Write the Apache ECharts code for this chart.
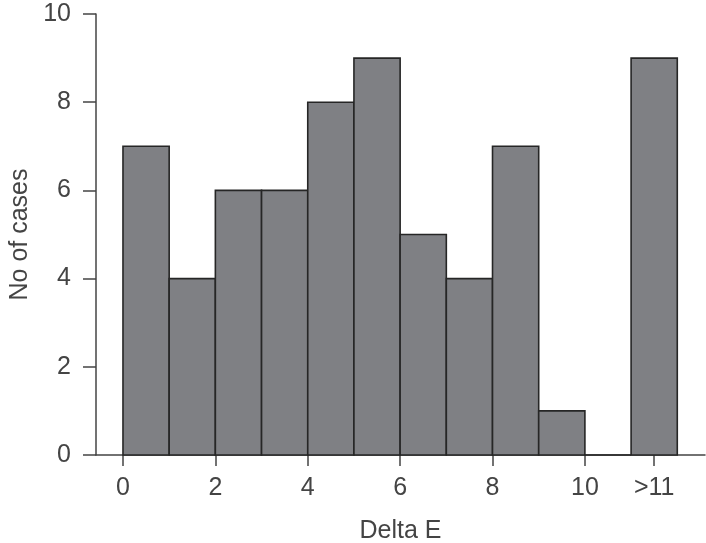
<!DOCTYPE html>
<html><head><meta charset="utf-8">
<script src="https://cdn.jsdelivr.net/npm/echarts@6/dist/echarts.min.js"></script>
<style>html,body{margin:0;padding:0;background:#fff}#c{width:706px;height:543px}</style>
</head><body><div id="c"></div>
<script>
var binStarts = [0,1,2,3,4,5,6,7,8,9,10,11];
var binEnds = [1,2,3,4,5,6,7,8,9,10,11,12];
var counts = [7,4,6,6,8,9,5,4,7,1,0,9];
var tickValues = [0,2,4,6,8,10,11.5];
var tickLabels = ['0','2','4','6','8','10','>11'];

var data = binStarts.map(function(s,i){return [s, binEnds[i], counts[i]];});
var font = 'Liberation Sans';
var chart = echarts.init(document.getElementById('c'));
chart.setOption({
  animation:false,
  grid:{left:96,right:1,top:14,bottom:88,containLabel:false,outerBoundsMode:'none'},
  xAxis:{type:'value',min:-0.584,max:12.6,
    name:'Delta E',nameLocation:'middle',nameGap:64,
    nameTextStyle:{fontSize:25,color:'#444',fontFamily:font},
    axisLine:{show:true,onZero:false,lineStyle:{color:'#444',width:1.5}},
    axisTick:{show:true,customValues:tickValues,length:11,lineStyle:{color:'#444',width:1.5}},
    axisLabel:{customValues:tickValues,margin:21,fontSize:25,color:'#444',fontFamily:font,
      formatter:function(v){var i=tickValues.indexOf(v);return i>=0?tickLabels[i]:'';}},
    splitLine:{show:false}},
  yAxis:{type:'value',min:0,max:10,interval:2,
    name:'No of cases',nameLocation:'middle',nameGap:58,
    nameTextStyle:{fontSize:25,color:'#444',fontFamily:font},
    axisLine:{show:true,onZero:false,lineStyle:{color:'#444',width:1.5}},
    axisTick:{show:true,length:13,lineStyle:{color:'#444',width:1.5}},
    axisLabel:{margin:25,fontSize:25,color:'#444',fontFamily:font},
    splitLine:{show:false}},
  series:[{type:'custom',
    renderItem:function(params,api){
      var p0=api.coord([api.value(0),api.value(2)]);
      var p1=api.coord([api.value(1),0]);
      return {type:'rect',shape:{x:p0[0],y:p0[1],width:p1[0]-p0[0],height:p1[1]-p0[1]},
        style:{fill:'#7f8084',stroke:'#262626',lineWidth:1.6}};
    },
    encode:{x:[0,1],y:2},
    data:data}]
});
</script></body></html>
